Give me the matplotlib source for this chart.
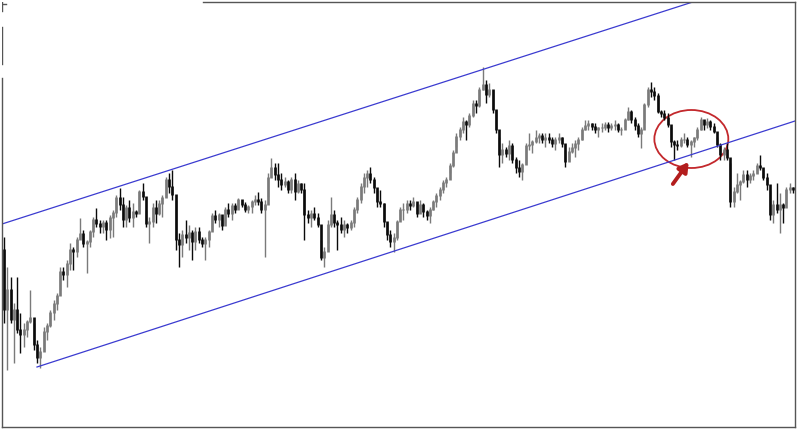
# price chart with a rising channel, redrawn from a screenshot
import matplotlib
matplotlib.use("Agg")
import matplotlib.pyplot as plt
from matplotlib.patches import Ellipse
import numpy as np

# bar data (high / low / close per bar, left to right)
highs = [193, 163, 153, 127, 153, 117, 107, 110, 140, 107, 90, 83, 103, 107, 120, 130,
         137, 163, 163, 170, 187, 183, 193, 212, 200, 190, 200, 213, 222, 210, 210,
         210, 215, 220, 235, 242, 233, 225, 230, 227, 220, 240, 247, 220, 213, 227,
         230, 230, 235, 253, 257, 260, 230, 197, 200, 210, 205, 200, 203, 203, 193,
         193, 200, 217, 220, 217, 213, 223, 227, 227, 227, 232, 230, 228, 225, 230,
         235, 238, 232, 230, 257, 272, 267, 267, 257, 253, 250, 253, 257, 250, 247,
         247, 220, 220, 223, 217, 190, 183, 210, 233, 220, 210, 213, 210, 207, 210,
         223, 233, 247, 257, 260, 263, 253, 240, 240, 227, 207, 200, 197, 210, 223,
         227, 230, 230, 233, 227, 230, 227, 220, 223, 230, 237, 243, 250, 253, 267,
         280, 297, 303, 313, 310, 317, 330, 330, 343, 363, 350, 347, 340, 320, 293,
         287, 283, 290, 287, 273, 270, 267, 287, 297, 290, 300, 297, 297, 297, 297,
         293, 293, 297, 293, 280, 283, 287, 290, 293, 303, 310, 310, 307, 307, 303,
         307, 308, 308, 307, 310, 307, 303, 312, 323, 320, 313, 307, 303, 327, 343,
         348, 343, 337, 320, 320, 317, 303, 290, 290, 293, 297, 293, 290, 293, 303,
         313, 310, 312, 310, 307, 293, 287, 283, 287, 267, 243, 257, 250, 260, 260,
         257, 260, 267, 275, 260, 257, 240, 230, 247, 237, 227, 243, 247, 243]
lows = [107, 60, 107, 67, 97, 77, 83, 93, 107, 80, 67, 62, 80, 90, 103, 110,
        120, 140, 150, 143, 160, 160, 173, 192, 183, 157, 183, 193, 203, 197, 197,
        190, 192, 193, 213, 220, 203, 203, 208, 203, 213, 223, 230, 203, 187, 203,
        207, 215, 213, 233, 237, 230, 180, 163, 173, 187, 180, 170, 180, 187, 183,
        170, 183, 200, 207, 203, 200, 207, 213, 210, 217, 222, 223, 218, 217, 217,
        225, 225, 217, 173, 233, 253, 250, 243, 240, 243, 237, 237, 230, 237, 237,
        190, 207, 203, 210, 203, 170, 163, 187, 203, 203, 180, 197, 193, 197, 200,
        203, 217, 227, 237, 243, 247, 237, 223, 223, 203, 190, 183, 178, 190, 210,
        210, 217, 220, 223, 213, 217, 213, 210, 207, 220, 223, 230, 237, 243, 257,
        263, 283, 290, 297, 290, 303, 313, 317, 323, 340, 327, 333, 317, 297, 263,
        267, 273, 270, 267, 257, 253, 250, 267, 280, 277, 287, 287, 287, 283, 287,
        283, 280, 287, 283, 263, 270, 277, 273, 280, 290, 300, 300, 300, 297, 293,
        298, 300, 298, 300, 300, 298, 295, 303, 310, 307, 300, 293, 282, 307, 323,
        333, 330, 317, 313, 310, 303, 283, 270, 280, 283, 287, 283, 273, 283, 290,
        300, 300, 302, 300, 297, 283, 270, 270, 270, 223, 223, 237, 230, 247, 243,
        247, 250, 257, 260, 250, 240, 210, 207, 217, 197, 207, 227, 237, 237]
closes = [120, 140, 110, 120, 100, 95, 100, 108, 112, 85, 72, 78, 98, 104, 117, 126,
          134, 158, 155, 166, 180, 178, 190, 196, 186, 188, 198, 210, 206, 203, 207,
          200, 212, 217, 232, 225, 210, 222, 212, 218, 216, 238, 233, 206, 208, 222,
          216, 226, 232, 250, 243, 235, 190, 185, 195, 192, 197, 188, 198, 190, 186,
          190, 198, 214, 210, 215, 204, 220, 216, 224, 220, 230, 225, 220, 223, 228,
          230, 228, 220, 225, 252, 262, 255, 250, 245, 248, 240, 250, 238, 246, 240,
          215, 212, 216, 212, 205, 172, 178, 205, 215, 207, 205, 200, 205, 202, 207,
          220, 230, 243, 252, 256, 250, 242, 228, 226, 208, 195, 188, 192, 208, 220,
          220, 226, 224, 228, 216, 225, 218, 214, 220, 228, 234, 240, 247, 250, 264,
          277, 293, 300, 308, 305, 314, 326, 324, 340, 345, 335, 340, 320, 300, 275,
          280, 276, 284, 270, 262, 258, 265, 284, 285, 288, 292, 294, 290, 292, 290,
          286, 290, 292, 286, 268, 278, 282, 286, 290, 300, 304, 306, 303, 300, 302,
          302, 305, 302, 304, 305, 300, 300, 310, 318, 310, 304, 296, 300, 325, 340,
          338, 334, 318, 316, 312, 305, 288, 285, 284, 290, 290, 285, 288, 292, 300,
          310, 305, 308, 303, 298, 285, 275, 280, 272, 228, 238, 245, 248, 255, 250,
          254, 256, 264, 262, 252, 245, 215, 225, 220, 225, 222, 240, 242, 240]
first_open = 180

# channel drawn on the chart: lower line through the two lows, upper one parallel
lower_x = [10, 239.6]
lower_y = [63, 309]
upper_x = [-0.6, 210.5]
upper_y = [206, 430]

# the red circle and arrow around the retest
circle_center = (208.2, 291)
circle_w = 22.4
circle_h = 58
arrow_tail = (202.6, 246)
arrow_head = (207.4, 268)

n = len(closes)
idx = np.arange(n)
opens = np.array([first_open] + closes[:-1])
closes_a = np.array(closes)
up = closes_a >= opens
colors = np.where(up, "#7a7a7a", "#0a0a0a")

fig = plt.figure(figsize=(8, 4.3), dpi=100)
ax = fig.add_axes([2 / 800, 3 / 430, 793 / 800, 425 / 430])

ax.vlines(idx, lows, highs, colors=colors, linewidth=1.0)
ax.vlines(idx, np.minimum(opens, closes_a), np.maximum(opens, closes_a) + 0.8,
          colors=colors, linewidth=1.9)

ax.plot(lower_x, lower_y, color="#3b3bd0", linewidth=0.9)
ax.plot(upper_x, upper_y, color="#3b3bd0", linewidth=0.9)

ax.add_patch(Ellipse(circle_center, circle_w, circle_h, fill=False,
                     edgecolor="#c3282c", linewidth=1.3))
ax.annotate("", xy=arrow_head, xytext=arrow_tail,
            arrowprops=dict(arrowstyle="-|>,head_width=0.32,head_length=0.55",
                            color="#b31d1d", linewidth=2.8,
                            shrinkA=0, shrinkB=0))

ax.set_xlim(-0.6, 239.6)
ax.set_ylim(3, 428)
ax.set_xticks([])
ax.set_yticks([])

# frame of the screenshot, partly cut off at the top left
for side in ["left", "right", "top", "bottom"]:
    ax.spines[side].set_color("#555555")
    ax.spines[side].set_linewidth(1.0)
ax.spines["left"].set_bounds(3, 352)
ax.spines["top"].set_bounds(60.4, 239.6)
ax.axvline(-0.6, ymin=(428 - 65) / 425, ymax=(428 - 28) / 425, color="#555555", linewidth=1.0)
ax.axvline(-0.6, ymin=(428 - 12) / 425, ymax=(428 - 3) / 425, color="#555555", linewidth=1.0)
ax.plot([-0.6, 0.6], [426, 426], color="#555555", linewidth=1.0)

fig.savefig("out.png", dpi=100)
